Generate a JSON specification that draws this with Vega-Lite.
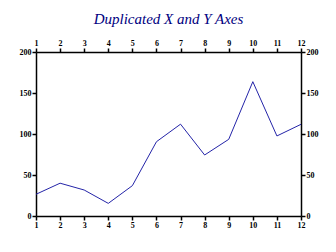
{
  "$schema": "https://vega.github.io/schema/vega-lite/v6.json",
  "autosize": {"type": "none"},
  "width": 265,
  "height": 164,
  "padding": {"left": 36, "top": 52, "right": 35, "bottom": 36},
  "background": "white",
  "title": {
    "text": "Duplicated X and Y Axes",
    "font": "Liberation Serif",
    "fontSize": 15,
    "fontStyle": "italic",
    "fontWeight": "normal",
    "color": "#000080",
    "anchor": "middle",
    "offset": 12
  },
  "data": {
    "values": [
      {"x": 1, "y": 26.5},
      {"x": 2, "y": 40},
      {"x": 3, "y": 31.7},
      {"x": 4, "y": 15.4},
      {"x": 5, "y": 37},
      {"x": 6, "y": 90.6},
      {"x": 7, "y": 112},
      {"x": 8, "y": 74.4},
      {"x": 9, "y": 93.5},
      {"x": 10, "y": 163.8},
      {"x": 11, "y": 97.6},
      {"x": 12, "y": 111.8}
    ]
  },
  "config": {
    "view": {"stroke": null},
    "axis": {
      "grid": false,
      "title": null,
      "domainColor": "black",
      "domainWidth": 1.5,
      "tickColor": "black",
      "tickWidth": 1.5,
      "tickSize": 4,
      "labelFont": "Liberation Serif",
      "labelFontSize": 8,
      "labelFontWeight": "bold",
      "labelColor": "black",
      "labelPadding": 1,
      "labelFlush": false,
      "labelOverlap": false
    }
  },
  "layer": [
    {
      "mark": {"type": "line", "color": "#2424a8", "strokeWidth": 1},
      "encoding": {
        "x": {"field": "x", "type": "quantitative", "scale": {"domain": [1, 12], "nice": false, "zero": false}, "axis": {"orient": "bottom", "values": [1,2,3,4,5,6,7,8,9,10,11,12]}},
        "y": {"field": "y", "type": "quantitative", "scale": {"domain": [0, 200], "nice": false}, "axis": {"orient": "left", "values": [0,50,100,150,200]}}
      }
    },
    {
      "mark": {"type": "line", "opacity": 0},
      "encoding": {
        "x": {"field": "x", "type": "quantitative", "scale": {"domain": [1, 12], "nice": false, "zero": false}, "axis": {"orient": "top", "values": [1,2,3,4,5,6,7,8,9,10,11,12]}},
        "y": {"field": "y", "type": "quantitative", "scale": {"domain": [0, 200], "nice": false}, "axis": {"orient": "right", "values": [0,50,100,150,200]}}
      }
    }
  ],
  "resolve": {"axis": {"x": "independent", "y": "independent"}}
}
